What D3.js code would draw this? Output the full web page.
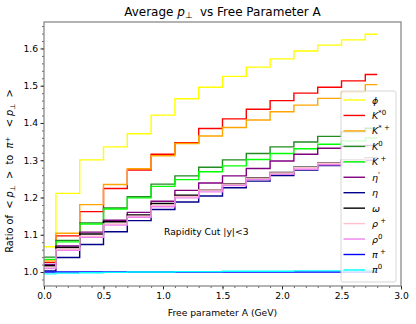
<!DOCTYPE html>
<html><head><meta charset="utf-8">
<script src="https://cdn.jsdelivr.net/npm/d3@7"></script>
<style>body{margin:0;background:#fff} text{font-family:"DejaVu Sans",sans-serif}</style>
</head><body><svg id="c" width="416" height="324"></svg>
<script>
// ---- data ----
const xValues = [0.0,0.2,0.4,0.6,0.8,1.0,1.2,1.4,1.6,1.8,2.0,2.2,2.4,2.6,2.8];
const phi     = [1.068,1.211,1.301,1.336,1.371,1.421,1.465,1.496,1.525,1.550,1.572,1.593,1.609,1.623,1.638];
const kStar0  = [1.026,1.097,1.162,1.224,1.274,1.316,1.347,1.385,1.411,1.437,1.460,1.480,1.496,1.513,1.530];
const kStarP  = [1.030,1.104,1.181,1.235,1.277,1.312,1.345,1.365,1.388,1.408,1.430,1.448,1.466,1.483,1.503];
const k0      = [1.040,1.085,1.132,1.172,1.202,1.236,1.258,1.281,1.301,1.318,1.336,1.349,1.364,1.376,1.386];
const kPlus   = [1.034,1.081,1.129,1.169,1.199,1.230,1.248,1.269,1.285,1.302,1.318,1.331,1.343,1.352,1.360];
const etaP    = [1.020,1.070,1.107,1.139,1.160,1.190,1.219,1.239,1.258,1.278,1.298,1.316,1.332,1.337,1.340];
const eta     = [1.003,1.039,1.074,1.108,1.138,1.168,1.188,1.204,1.226,1.244,1.259,1.274,1.286,1.295,1.300];
const omega   = [1.017,1.066,1.102,1.135,1.153,1.184,1.206,1.221,1.237,1.253,1.267,1.281,1.293,1.301,1.306];
const rhoP    = [1.012,1.061,1.096,1.129,1.150,1.179,1.203,1.220,1.236,1.252,1.266,1.280,1.292,1.300,1.305];
const rho0    = [1.009,1.058,1.093,1.126,1.147,1.175,1.199,1.215,1.232,1.248,1.262,1.276,1.288,1.297,1.302];
const piP     = [1.000,1.000,1.000,1.000,1.000,1.000,1.000,1.000,1.000,1.000,1.000,1.000,1.000,1.000,1.000];
const pi0     = [0.995,0.997,0.998,0.999,1.000,1.000,1.001,1.001,1.002,1.002,1.002,1.003,1.003,1.003,1.004];
const xTicks = [0.0,0.5,1.0,1.5,2.0,2.5,3.0];
const yTicks = [1.0,1.1,1.2,1.3,1.4,1.5,1.6];
const titleText = ["Average ", "p", "⊥", "\u00a0\u00a0vs Free Parameter A"];
const xLabel = "Free parameter A (GeV)";
const note = "Rapidity Cut |y|<3";
const series = [
  {sym:"ϕ", sup:"", vals:phi, color:"#ffff00"},
  {sym:"K", sup:"*0", vals:kStar0, color:"#ff0000"},
  {sym:"K", sup:"*\u00a0+", vals:kStarP, color:"#ffa500"},
  {sym:"K", sup:"0", vals:k0, color:"#228b22"},
  {sym:"K", sup:"\u00a0+", vals:kPlus, color:"#00ff00"},
  {sym:"η", sup:"'", vals:etaP, color:"#800080"},
  {sym:"η", sup:"", vals:eta, color:"#00008b"},
  {sym:"ω", sup:"", vals:omega, color:"#000000"},
  {sym:"ρ", sup:"\u00a0+", vals:rhoP, color:"#ffc0cb"},
  {sym:"ρ", sup:"0", vals:rho0, color:"#ee82ee"},
  {sym:"π", sup:"\u00a0+", vals:piP, color:"#0000ff"},
  {sym:"π", sup:"0", vals:pi0, color:"#00ffff"}
];

// ---- layout ----
const L=44, R=401, T=22, B=286;
const svg = d3.select("#c");
const x = d3.scaleLinear().domain([0,3.0]).range([L,R]);
const y = d3.scaleLinear().domain([0.9625,1.671]).range([B,T]);

// axes
const xAxis = d3.axisBottom(x).tickValues(xTicks).tickFormat(d3.format(".1f")).tickSize(3.5).tickPadding(2.5);
const yAxis = d3.axisLeft(y).tickValues(yTicks).tickFormat(d3.format(".1f")).tickSize(3.5).tickPadding(2.5);
const xMinor = d3.range(0,3.0001,0.1);
const yMinor = d3.range(0.98,1.6701,0.02);
const gx = svg.append("g").attr("transform",`translate(0,${B})`).call(xAxis);
const gy = svg.append("g").attr("transform",`translate(${L},0)`).call(yAxis);
[gx,gy].forEach(g=>{g.select(".domain").remove(); g.selectAll("text").attr("font-size",9.2).attr("fill","#000").attr("font-family","DejaVu Sans"); g.selectAll("line").attr("stroke","#000").attr("stroke-width",0.8);});
svg.append("g").attr("transform",`translate(0,${B})`).call(d3.axisBottom(x).tickValues(xMinor).tickSize(2).tickFormat(""))
  .call(g=>{g.select(".domain").remove(); g.selectAll("line").attr("stroke","#000").attr("stroke-width",0.6);});
svg.append("g").attr("transform",`translate(${L},0)`).call(d3.axisLeft(y).tickValues(yMinor).tickSize(2).tickFormat(""))
  .call(g=>{g.select(".domain").remove(); g.selectAll("line").attr("stroke","#000").attr("stroke-width",0.6);});

// lines
const line = d3.line().x((d,i)=>x(xValues[i])).y(d=>y(d)).curve(d3.curveStep);
svg.append("g").selectAll("path").data(series).join("path")
  .attr("d",d=>line(d.vals)).attr("fill","none").attr("stroke",d=>d.color).attr("stroke-width",1.4);

// frame
svg.append("rect").attr("x",L).attr("y",T).attr("width",R-L).attr("height",B-T)
  .attr("fill","none").attr("stroke","#808080").attr("stroke-width",1.2);

// title
const tt = svg.append("text").attr("x",(L+R)/2).attr("y",16).attr("text-anchor","middle").attr("font-size",12).attr("fill","#000");
tt.append("tspan").text(titleText[0]);
tt.append("tspan").attr("font-style","italic").text(titleText[1]);
tt.append("tspan").attr("font-size",8.5).attr("dy",2).text(titleText[2]);
tt.append("tspan").attr("dy",-2).text(titleText[3]);

// x label
svg.append("text").attr("x",(L+R)/2).attr("y",316).attr("text-anchor","middle").attr("font-size",9.2).attr("fill","#000").text(xLabel);

// y label
const S = "\u00a0";
const yl = svg.append("text").attr("transform",`translate(13,${171}) rotate(-90)`).attr("text-anchor","middle").attr("font-size",9.8).attr("fill","#000");
yl.append("tspan").text("Ratio of"+S+S+"<"+S);
yl.append("tspan").attr("font-style","italic").text("p");
yl.append("tspan").attr("font-size",7).attr("dy",1.5).text("⊥");
yl.append("tspan").attr("dy",-1.5).text(S+S+">"+S+S+"to"+S+S);
yl.append("tspan").attr("font-style","italic").text("π");
yl.append("tspan").attr("font-size",7).attr("dy",-3.5).text("+");
yl.append("tspan").attr("dy",3.5).text(S+S+S+"<"+S);
yl.append("tspan").attr("font-style","italic").text("p");
yl.append("tspan").attr("font-size",7).attr("dy",1.5).text("⊥");
yl.append("tspan").attr("dy",-1.5).text(S+S+">");

// annotation
svg.append("text").attr("x",164).attr("y",235).attr("font-size",9.2).attr("fill","#000").text(note);

// legend
const lg = svg.append("g");
lg.append("rect").attr("x",341).attr("y",91).attr("width",55).attr("height",191).attr("rx",2)
  .attr("fill","#fff").attr("fill-opacity",0.8).attr("stroke","#cccccc").attr("stroke-width",0.8);
const step = 15.45;
series.forEach((s,i)=>{
  const yy = 100 + i*step;
  lg.append("line").attr("x1",343.5).attr("x2",365).attr("y1",yy).attr("y2",yy).attr("stroke",s.color).attr("stroke-width",1.4);
  const t = lg.append("text").attr("x",372).attr("y",yy+3.5).attr("font-size",9.5).attr("fill","#000");
  t.append("tspan").attr("font-style","italic").text(s.sym);
  if (s.sup) t.append("tspan").attr("font-size",7).attr("dy",-4).text(s.sup);
});
</script></body></html>
